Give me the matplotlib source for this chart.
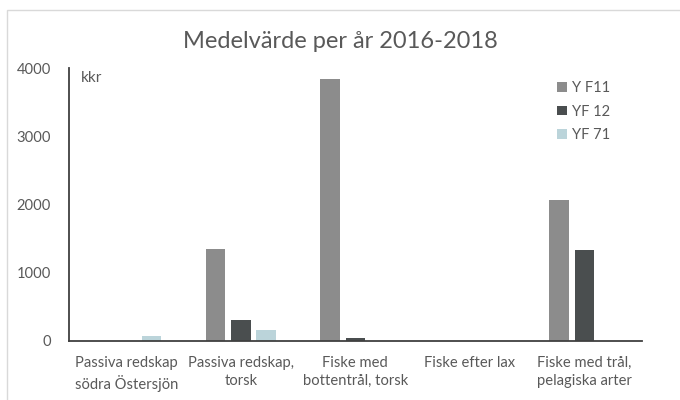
import matplotlib
matplotlib.use("Agg")
import matplotlib.pyplot as plt
from matplotlib.patches import Rectangle
import numpy as np

plt.rcParams['font.family'] = ['Lato', 'DejaVu Sans']

categories = ["Passiva redskap\nsödra Östersjön", "Passiva redskap,\ntorsk",
              "Fiske med\nbottentrål, torsk", "Fiske efter lax",
              "Fiske med trål,\npelagiska arter"]
series_names = ["Y F11", "YF 12", "YF 71"]
yf11 = [0, 1350, 3840, 0, 2070]
yf12 = [0, 300, 40, 0, 1335]
yf71 = [70, 150, 0, 0, 0]
colors = ["#8C8C8C", "#4A4E4F", "#BBD4DA"]
yticks = [0, 1000, 2000, 3000, 4000]

fig = plt.figure(figsize=(6.8, 4.0), dpi=100)
fig.patch.set_facecolor("white")
fig.add_artist(Rectangle((7/680, -0.01), 1.0, 1 - 10/400 + 0.01, transform=fig.transFigure,
                         fill=False, edgecolor="#D9D9D9", linewidth=1.0))

ax = fig.add_axes([69/680, 1 - 340.5/400, (641.7 - 69)/680, (340.5 - 68.1)/400])
x = np.arange(len(categories))
w = 0.17
step = 0.221
for i, (vals, name, c) in enumerate(zip([yf11, yf12, yf71], series_names, colors)):
    ax.bar(x + (i - 1) * step, vals, width=w, color=c, label=name, linewidth=0)

ax.set_xlim(-0.5, len(categories) - 0.5)
ax.set_ylim(0, 4000)
ax.set_yticks(yticks)
ax.set_yticklabels([str(v) for v in yticks])
ax.set_xticks(x)
ax.set_xticklabels(categories)
ax.tick_params(axis='both', length=0, labelsize=10.6, labelcolor="#595959")
ax.tick_params(axis='y', pad=13)
ax.tick_params(axis='x', pad=11)
for lbl in ax.get_xticklabels():
    lbl.set_linespacing(1.4)
for s in ["top", "right"]:
    ax.spines[s].set_visible(False)
for s in ["left", "bottom"]:
    ax.spines[s].set_color("#404040")
    ax.spines[s].set_linewidth(1.3)

ax.text(0.02, 0.964, "kkr", transform=ax.transAxes, fontsize=11, color="#595959",
        ha="left", va="center")

fig.text(340/680, 1 - 42/400, "Medelvärde per år 2016-2018", fontsize=17, color="#595959",
         ha="center", va="center")

leg = ax.legend(loc="upper left", bbox_to_anchor=(557/680, 1 - 81/400),
                bbox_transform=fig.transFigure, frameon=False, fontsize=10.6,
                handlelength=0.65, handleheight=0.65, handletextpad=0.4,
                labelspacing=0.66, borderpad=0, borderaxespad=0)
for t in leg.get_texts():
    t.set_color("#595959")

fig.savefig("out.png", dpi=100, facecolor="white")
